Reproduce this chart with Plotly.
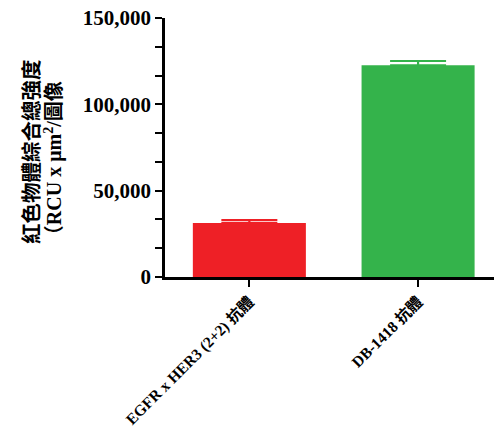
import plotly.graph_objects as go

categories = ["EGFR x HER3 (2+2) 抗體", "DB-1418 抗體"]
values = [31300, 122600]
errors_up = [1700, 2500]
colors = ["#EE2026", "#34B34B"]

FONT = "Liberation Serif, 'Noto Sans CJK TC', serif"

fig = go.Figure()
for i in range(len(categories)):
    fig.add_trace(go.Bar(
        x=[categories[i]], y=[values[i]],
        width=0.67,
        marker=dict(color=colors[i], line=dict(width=0)),
        error_y=dict(type="data", symmetric=False, array=[errors_up[i]], arrayminus=[0],
                     color=colors[i], thickness=2.2, width=28),
        showlegend=False,
    ))

fig.update_layout(
    width=494, height=428,
    margin=dict(l=165, r=0, t=18, b=151),
    paper_bgcolor="white", plot_bgcolor="white",
    font=dict(family=FONT, color="black"),
    bargap=0.3,
)
fig.update_xaxes(
    type="category", range=[-0.5, 1.45], automargin=False,
    showline=True, linecolor="black", linewidth=2.5,
    ticks="outside", ticklen=7, tickwidth=2, tickcolor="black",
    tickangle=-45, tickfont=dict(size=15.5, family=FONT, weight="bold"),
    ticklabeloverflow="allow",
    showgrid=False, zeroline=False,
)
fig.update_yaxes(
    range=[0, 150000], automargin=False,
    tickvals=[0, 50000, 100000, 150000],
    ticktext=["0", "50,000", "100,000", "150,000"],
    showline=True, linecolor="black", linewidth=2.5,
    ticks="outside", ticklen=7, tickwidth=2, tickcolor="black",
    minor=dict(dtick=50000/3, ticks="outside", ticklen=7, tickwidth=2, tickcolor="black", showgrid=False),
    tickfont=dict(size=21, family=FONT, weight="bold"),
    ticklabeloverflow="allow",
    showgrid=False, zeroline=False,
)
fig.add_annotation(
    text="<b>紅色物體綜合總強度</b>", textangle=-90,
    xref="paper", yref="paper", x=-0.404, y=0.483,
    xanchor="center", yanchor="middle", showarrow=False,
    font=dict(size=20.5, family=FONT, color="black"),
)
fig.add_annotation(
    text="<b>（RCU x μm<sup>2</sup>/圖像</b>", textangle=-90,
    xref="paper", yref="paper", x=-0.340, y=0.44,
    xanchor="center", yanchor="middle", showarrow=False,
    font=dict(size=20, family=FONT, color="black"),
)

fig.write_html("out.html", config={"displayModeBar": False},
               post_script="document.body.style.margin='0px';")
